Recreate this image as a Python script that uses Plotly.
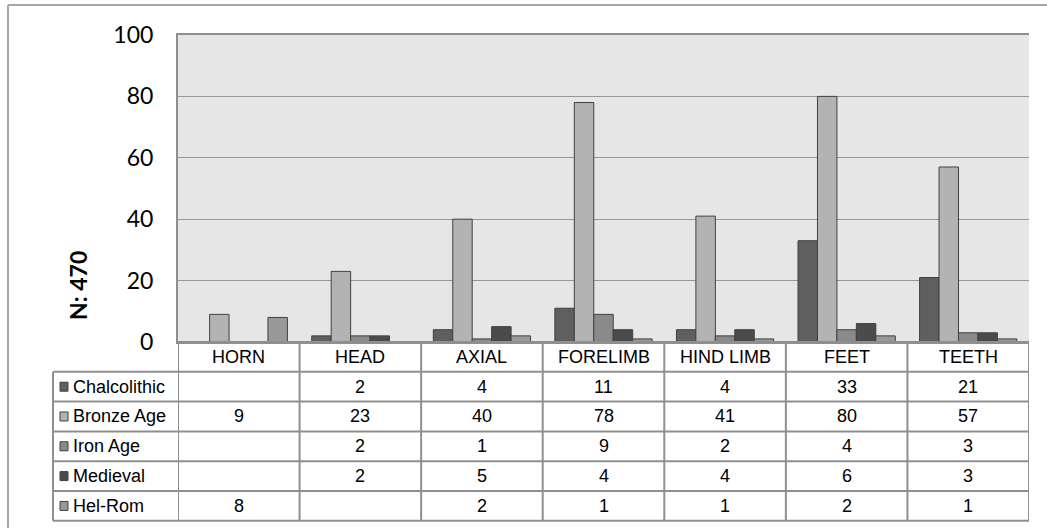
import plotly.graph_objects as go

# Skeletal element groups and counts per period
categories = ["HORN", "HEAD", "AXIAL", "FORELIMB", "HIND LIMB", "FEET", "TEETH"]
series_names = ["Chalcolithic", "Bronze Age", "Iron Age", "Medieval", "Hel-Rom"]
chalcolithic = [None, 2, 4, 11, 4, 33, 21]
bronze_age = [9, 23, 40, 78, 41, 80, 57]
iron_age = [None, 2, 1, 9, 2, 4, 3]
medieval = [None, 2, 5, 4, 4, 6, 3]
hel_rom = [8, None, 2, 1, 1, 2, 1]
y_ticks = [0, 20, 40, 60, 80, 100]
y_title = "N: 470"

series_values = [chalcolithic, bronze_age, iron_age, medieval, hel_rom]
colors = ["#5f5f5f", "#b3b3b3", "#8a8a8a", "#4b4b4b", "#999999"]

W, H = 1047, 528
L, R, T, B = 178, 18, 35, 186
PW, PH = W - L - R, H - T - B
ROW_H = 29.8
GRID = "#8f8f8f"
TFONT = dict(family="Liberation Sans, Arial", size=18, color="#000000")


def px_x(p):
    return (p - L) / PW


def px_y(p):
    return (H - B - p) / PH


fig = go.Figure()
for name, vals, col in zip(series_names, series_values, colors):
    fig.add_bar(
        x=categories, y=vals, name=name,
        marker=dict(color=col, line=dict(color="#404040", width=1)),
        showlegend=False,
    )

shapes = []
annotations = []

# outer chart frame (top and left edges)
shapes.append(dict(type="line", xref="paper", yref="paper",
                   x0=px_x(8), x1=px_x(1047), y0=px_y(5), y1=px_y(5),
                   line=dict(color="#a6a6a6", width=2)))
shapes.append(dict(type="line", xref="paper", yref="paper",
                   x0=px_x(8), x1=px_x(8), y0=px_y(5), y1=px_y(530),
                   line=dict(color="#a6a6a6", width=2)))

table_top = H - B
n_rows = len(series_names)
table_bottom = table_top + ROW_H * (n_rows + 1)

# vertical lines of the data table, aligned with category slots
for k in range(len(categories) + 1):
    shapes.append(dict(type="line", xref="x", yref="paper",
                       x0=k - 0.5, x1=k - 0.5,
                       y0=px_y(table_top), y1=px_y(table_bottom),
                       line=dict(color=GRID, width=2)))
# legend column left edge
shapes.append(dict(type="line", xref="paper", yref="paper",
                   x0=px_x(53), x1=px_x(53),
                   y0=px_y(table_top + ROW_H), y1=px_y(table_bottom),
                   line=dict(color=GRID, width=2)))
# horizontal lines
for r in range(n_rows + 2):
    yp = table_top + ROW_H * r
    x0 = px_x(53) if r >= 1 else 0
    shapes.append(dict(type="line", xref="paper", yref="paper",
                       x0=x0, x1=1, y0=px_y(yp), y1=px_y(yp),
                       line=dict(color=GRID, width=2)))

# header row: category names
for j, cat in enumerate(categories):
    annotations.append(dict(xref="x", yref="paper", x=j,
                            y=px_y(table_top + ROW_H / 2), text=cat,
                            showarrow=False, font=TFONT,
                            xanchor="center", yanchor="middle"))

# series rows: legend key, name, values
for i, (name, vals, col) in enumerate(zip(series_names, series_values, colors)):
    yc = table_top + ROW_H * (i + 1) + ROW_H / 2
    shapes.append(dict(type="rect", xref="paper", yref="paper",
                       x0=px_x(60), x1=px_x(68), y0=px_y(yc - 4.5), y1=px_y(yc + 4.5),
                       fillcolor=col, line=dict(color="#404040", width=1)))
    annotations.append(dict(xref="paper", yref="paper", x=px_x(71), y=px_y(yc),
                            text=name, showarrow=False, font=TFONT,
                            xanchor="left", yanchor="middle"))
    for j, v in enumerate(vals):
        if v is None:
            continue
        annotations.append(dict(xref="x", yref="paper", x=j, y=px_y(yc),
                                text=str(v), showarrow=False, font=TFONT,
                                xanchor="center", yanchor="middle"))

# rotated axis title
annotations.append(dict(xref="paper", yref="paper", x=px_x(78), y=px_y(286),
                        text="<b>" + y_title + "</b>", textangle=-90,
                        showarrow=False,
                        font=dict(family="Lato, Carlito, sans-serif", size=23, color="#000000"),
                        xanchor="center", yanchor="middle"))

fig.update_layout(
    width=W, height=H,
    margin=dict(l=L, r=R, t=T, b=B, pad=0),
    paper_bgcolor="#ffffff",
    plot_bgcolor="#e6e6e6",
    barmode="group", bargap=0.2, bargroupgap=0,
    shapes=shapes, annotations=annotations,
    xaxis=dict(range=[-0.5, len(categories) - 0.5], showticklabels=False,
               showgrid=False, zeroline=False, ticks="",
               showline=True, linecolor=GRID, linewidth=2, mirror=True),
    yaxis=dict(range=[0, 100], tickvals=y_ticks, showgrid=True,
               gridcolor="#979797", gridwidth=1, zeroline=False,
               showline=True, linecolor=GRID, linewidth=2, ticks="",
               ticklabelstandoff=18,
               tickfont=dict(family="Lato, Carlito, sans-serif", size=23, color="#000000")),
)

fig.write_html("out.html")
